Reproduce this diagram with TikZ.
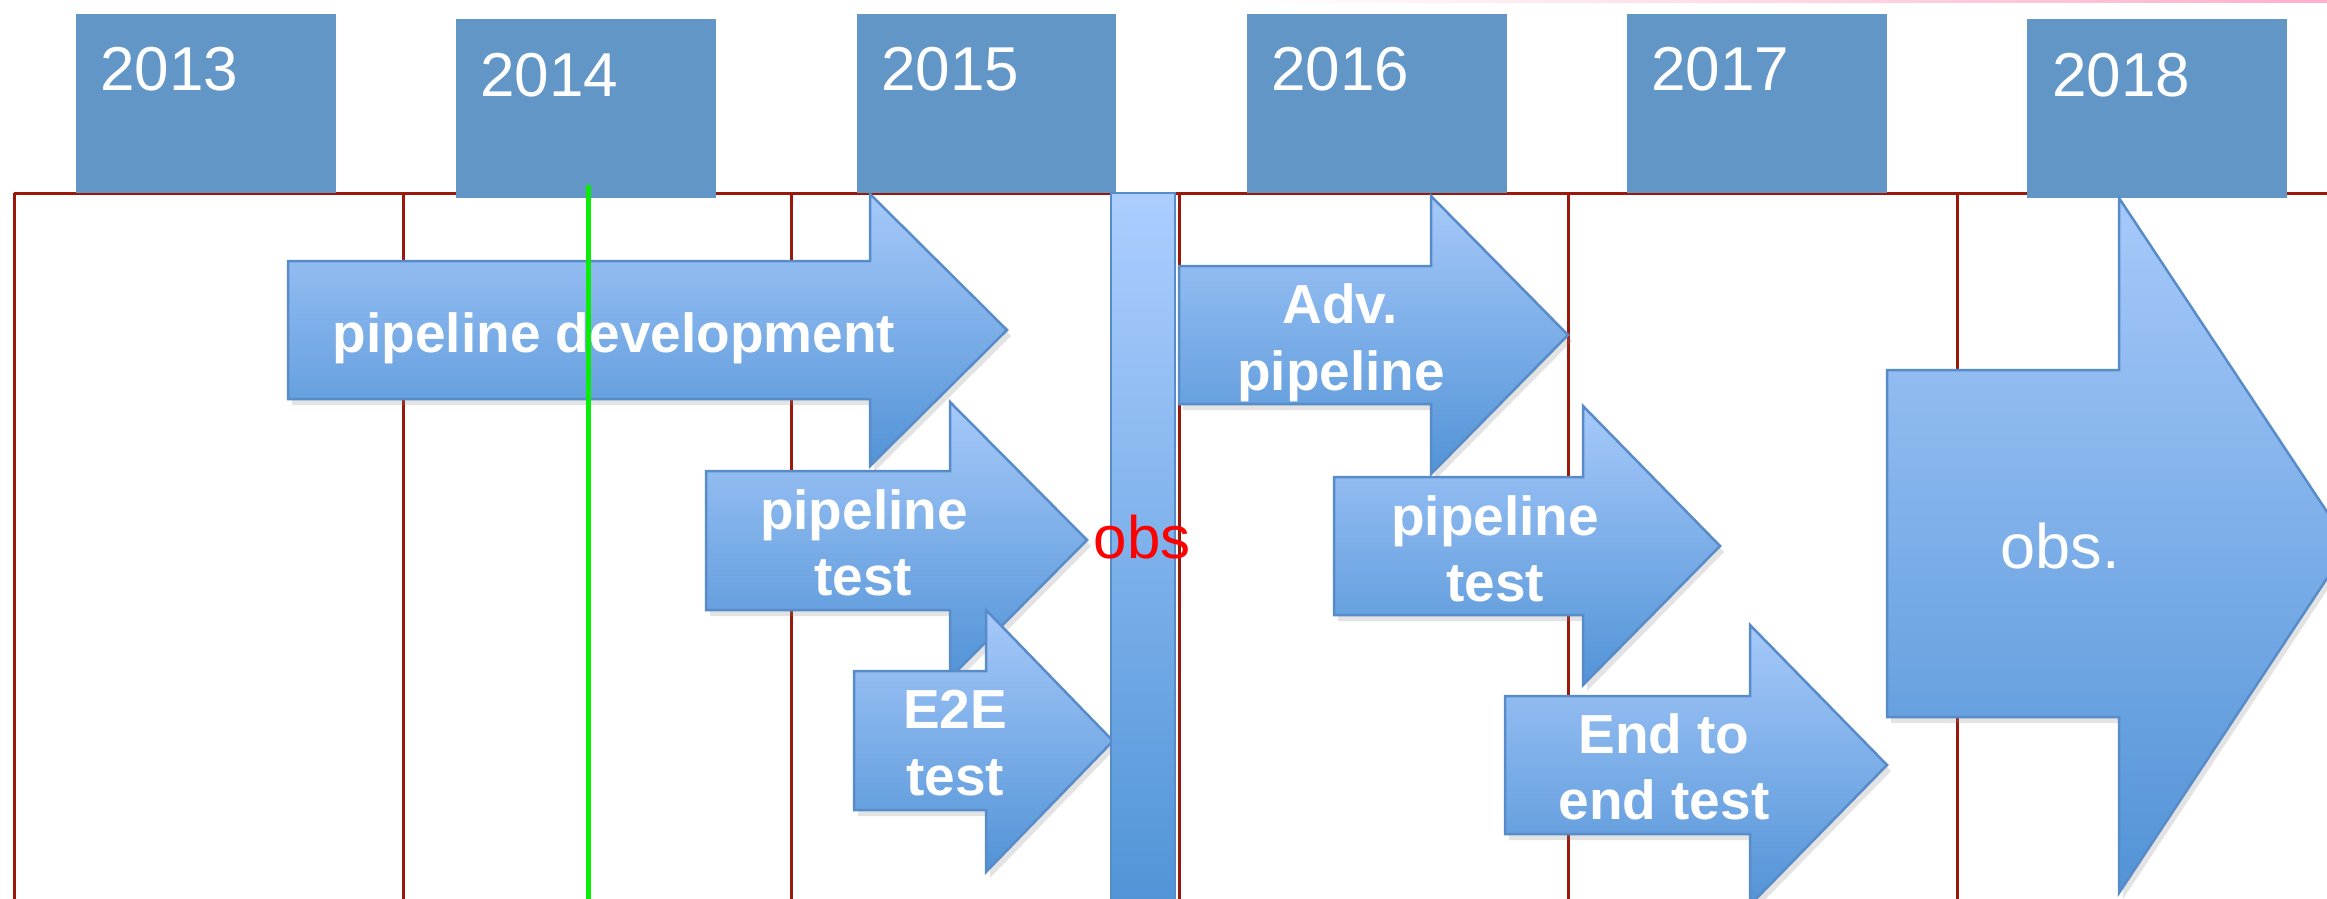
\documentclass[tikz,border=0pt]{standalone}
\usepackage{fontspec}
\setmainfont{Liberation Sans}
\usetikzlibrary{shadows}
\definecolor{yearblue}{RGB}{97,150,199}
\definecolor{gridred}{RGB}{155,25,10}
\definecolor{arrowtop}{RGB}{166,201,250}
\definecolor{arrowbot}{RGB}{82,147,214}
\definecolor{arrowedge}{RGB}{88,140,200}
\definecolor{bartop}{RGB}{172,206,255}
\definecolor{barbot}{RGB}{80,148,215}
\definecolor{markgreen}{RGB}{10,235,10}
\definecolor{pinkline}{RGB}{255,175,205}
\tikzset{
  yearbox/.style={fill=yearblue, draw=none},
  yeartext/.style={text=white, font=\fontsize{62}{70}\selectfont, anchor=base west, inner sep=0pt},
  parrow/.style={top color=arrowtop, bottom color=arrowbot, draw=arrowedge, line width=2.5pt, line join=miter,
     drop shadow={opacity=0.22, shadow xshift=4pt, shadow yshift=-6pt}},
  atext/.style={text=white, font=\bfseries\fontsize{55}{66}\selectfont, anchor=base, inner sep=0pt},
  gridline/.style={draw=gridred, line width=3pt},
}
\newcommand\pparrow[8]{% L, BT, BB, HB, HT, HBo, TX, TY
  \path[parrow] (#1,#2) -- (#4,#2) -- (#4,#5) -- (#7,#8) -- (#4,#6) -- (#4,#3) -- (#1,#3) -- cycle;}
\begin{document}
\begin{tikzpicture}[x=1pt,y=-1pt]
\useasboundingbox (0,0) rectangle (2327,899);
\clip (0,0) rectangle (2327,899);
\fill[white] (0,0) rectangle (2327,899);
% faint pink line at top
\shade[left color=white, right color=pinkline] (1250,0) rectangle (2327,3);
% grid
\draw[gridline] (14,193) -- (2327,193);
\foreach \gx in {14,403,791,1179,1568,1957} {\draw[gridline] (\gx,193) -- (\gx,899);}
% year boxes
\fill[yearbox] (76,14) rectangle (336,193);
\fill[yearbox] (456,19) rectangle (716,198);
\fill[yearbox] (857,14) rectangle (1116,193);
\fill[yearbox] (1247,14) rectangle (1507,193);
\fill[yearbox] (1627,14) rectangle (1887,193);
\fill[yearbox] (2027,19) rectangle (2287,198);
\node[yeartext] (y13) at (100,91) {2013};
\node[yeartext] (y14) at (480,96) {2014};
\node[yeartext] (y15) at (881,91) {2015};
\node[yeartext] (y16) at (1271,91) {2016};
\node[yeartext] (y17) at (1651,91) {2017};
\node[yeartext] (y18) at (2052,96) {2018};
% arrows
\pparrow{288}{261}{399}{870}{194}{466}{1007}{330}
\pparrow{706}{471}{610}{950}{402}{678}{1087}{540}
\pparrow{854}{671}{810}{986}{610}{872}{1113}{741}
% obs bar
\path[top color=bartop, bottom color=barbot, draw=arrowedge, line width=2pt] (1111,193) rectangle (1175,905);
\pparrow{1179}{266}{404}{1431}{196}{474}{1568}{335}
\pparrow{1334}{477}{615}{1583}{406}{685}{1720}{546}
\pparrow{1505}{696}{834}{1750}{625}{905}{1887}{765}
\pparrow{1887}{370}{717}{2119}{198}{893}{2349}{545}
% labels
\node[atext] (pd) at (614,352) {pipeline development};
\node[atext] (pt1a) at (864,529) {pipeline};
\node[atext] (pt1b) at (863,595) {test};
\node[atext] (e2ea) at (955,728) {E2E};
\node[atext] (e2eb) at (955,795) {test};
\node[atext] (adva) at (1340,323) {Adv.};
\node[atext] (advb) at (1341,390) {pipeline};
\node[atext] (pt2a) at (1495,535) {pipeline};
\node[atext] (pt2b) at (1495,601) {test};
\node[atext] (ee2a) at (1664,753) {End to};
\node[atext] (ee2b) at (1664,819) {end test};
\node[text=red, font=\fontsize{60}{70}\selectfont, anchor=base, inner sep=0pt] (obs) at (1142,558) {obs};
\node[text=white, font=\fontsize{63}{70}\selectfont, anchor=base, inner sep=0pt] (obsbig) at (2060,568) {obs.};
% green marker
\draw[markgreen, line width=5pt] (588,185) -- (588,899);
\end{tikzpicture}
\end{document}
